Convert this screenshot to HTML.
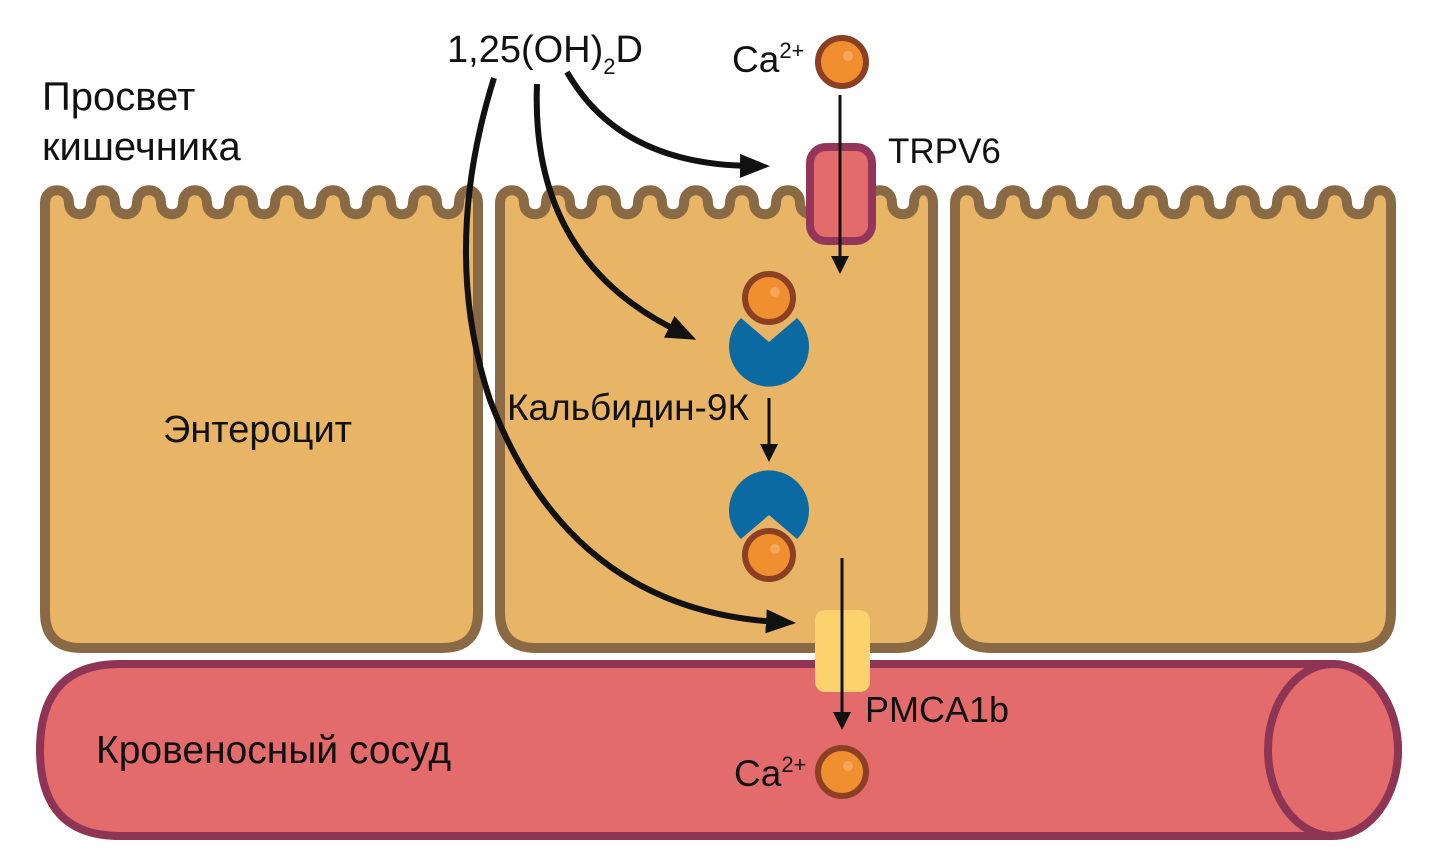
<!DOCTYPE html>
<html><head><meta charset="utf-8"><style>
html,body{margin:0;padding:0;background:#fff;}
svg{display:block;}
text{font-family:"Liberation Sans",sans-serif;fill:#111;}
</style></head><body>
<svg width="1438" height="854" viewBox="0 0 1438 854" xmlns="http://www.w3.org/2000/svg">
<defs>
<marker id="ah" markerWidth="5" markerHeight="4" refX="2" refY="2" orient="auto" markerUnits="strokeWidth"><path d="M0,0 L5,2 L0,4 Z" fill="#111"/></marker>
<marker id="ah2" markerWidth="6" markerHeight="6" refX="2" refY="3" orient="auto" markerUnits="strokeWidth"><path d="M0,0 L6,3 L0,6 Z" fill="#111"/></marker>
</defs>
<g fill="#e8b466" stroke="#8a6a45" stroke-width="10" stroke-linejoin="round">
<path d="M45,612 V203 c0,-17 24,-17 24,0 c0,15 22,15 22,0 c0,-17 24,-17 24,0 c0,15 22,15 22,0 c0,-17 24,-17 24,0 c0,15 22,15 22,0 c0,-17 24,-17 24,0 c0,15 22,15 22,0 c0,-17 24,-17 24,0 c0,15 22,15 22,0 c0,-17 24,-17 24,0 c0,15 22,15 22,0 c0,-17 24,-17 24,0 c0,15 22,15 22,0 c0,-17 24,-17 24,0 c0,15 22,15 22,0 c0,-17 24,-17 24,0 c0,15 22,15 22,0 c0,-17 19,-17 19,0 V612 Q478,648 442,648 H81 Q45,648 45,612 Z"/>
<path d="M500,612 V203 c0,-17 24,-17 24,0 c0,15 22,15 22,0 c0,-17 24,-17 24,0 c0,15 22,15 22,0 c0,-17 24,-17 24,0 c0,15 22,15 22,0 c0,-17 24,-17 24,0 c0,15 22,15 22,0 c0,-17 24,-17 24,0 c0,15 22,15 22,0 c0,-17 24,-17 24,0 c0,15 22,15 22,0 c0,-17 24,-17 24,0 c0,15 22,15 22,0 c0,-17 24,-17 24,0 c0,15 22,15 22,0 c0,-17 24,-17 24,0 c0,15 22,15 22,0 c0,-17 19,-17 19,0 V612 Q933,648 897,648 H536 Q500,648 500,612 Z"/>
<path d="M955,612 V203 c0,-17 24,-17 24,0 c0,15 22,15 22,0 c0,-17 24,-17 24,0 c0,15 22,15 22,0 c0,-17 24,-17 24,0 c0,15 22,15 22,0 c0,-17 24,-17 24,0 c0,15 22,15 22,0 c0,-17 24,-17 24,0 c0,15 22,15 22,0 c0,-17 24,-17 24,0 c0,15 22,15 22,0 c0,-17 24,-17 24,0 c0,15 22,15 22,0 c0,-17 24,-17 24,0 c0,15 22,15 22,0 c0,-17 24,-17 24,0 c0,15 22,15 22,0 c0,-17 22,-17 22,0 V612 Q1391,648 1355,648 H991 Q955,648 955,612 Z"/>
</g>
<path d="M120,664 H1333 A65,86 0 0 1 1333,836 H120 Q40,836 40,750 Q40,664 120,664 Z" fill="#e46b6b" stroke="#8e3556" stroke-width="8"/>
<ellipse cx="1333" cy="750" rx="65" ry="86" fill="#e46b6b" stroke="#8e3556" stroke-width="8"/>
<rect x="810" y="147" width="62" height="94" rx="16" fill="#e46b6b" stroke="#93365a" stroke-width="8"/>
<rect x="815" y="610" width="55" height="82" rx="10" fill="#fcd26f"/>
<path d="M741,318 A40,40 0 1 0 797,318 L769,342 Z" fill="#0a6aa1"/>
<path d="M741,539 A40,40 0 1 1 797,539 L769,515 Z" fill="#0a6aa1"/>
<g>
<circle cx="842" cy="62" r="24" fill="#ef8f2f" stroke="#8b3f23" stroke-width="6"/><circle cx="848" cy="56" r="5" fill="#f5a65a"/>
<circle cx="769" cy="298" r="24" fill="#ef8f2f" stroke="#8b3f23" stroke-width="6"/><circle cx="775" cy="292" r="5" fill="#f5a65a"/>
<circle cx="769" cy="555" r="24" fill="#ef8f2f" stroke="#8b3f23" stroke-width="6"/><circle cx="775" cy="549" r="5" fill="#f5a65a"/>
<circle cx="842" cy="772" r="24" fill="#ef8f2f" stroke="#8b3f23" stroke-width="6"/><circle cx="848" cy="766" r="5" fill="#f5a65a"/>
</g>
<g stroke="#111" stroke-width="3" fill="none" marker-end="url(#ah2)">
<line x1="840" y1="95" x2="840" y2="262"/>
<line x1="769" y1="398" x2="769" y2="450"/>
<line x1="842" y1="558" x2="842" y2="718"/>
</g>
<g stroke="#111" stroke-width="6" fill="none" marker-end="url(#ah)">
<path d="M567,72 Q620,165 752,166"/>
<path d="M537,84 Q530,260 680,332"/>
<path d="M494,78 Q440,250 490,400 Q570,610 778,622"/>
</g>
<text x="447" y="62" font-size="38">1,25(OH)<tspan font-size="22" dy="12">2</tspan><tspan dy="-12">D</tspan></text>
<text x="732" y="72" font-size="37">Ca<tspan font-size="22" dy="-14">2+</tspan></text>
<text x="42" y="110" font-size="40">Просвет</text>
<text x="42" y="160" font-size="40">кишечника</text>
<text x="888" y="163" font-size="35">TRPV6</text>
<text x="163" y="442" font-size="38">Энтероцит</text>
<text x="507" y="420" font-size="37">Кальбидин-9К</text>
<text x="865" y="722" font-size="36">PMCA1b</text>
<text x="96" y="763" font-size="39">Кровеносный сосуд</text>
<text x="734" y="786" font-size="37">Ca<tspan font-size="22" dy="-14">2+</tspan></text>
</svg>
</body></html>
